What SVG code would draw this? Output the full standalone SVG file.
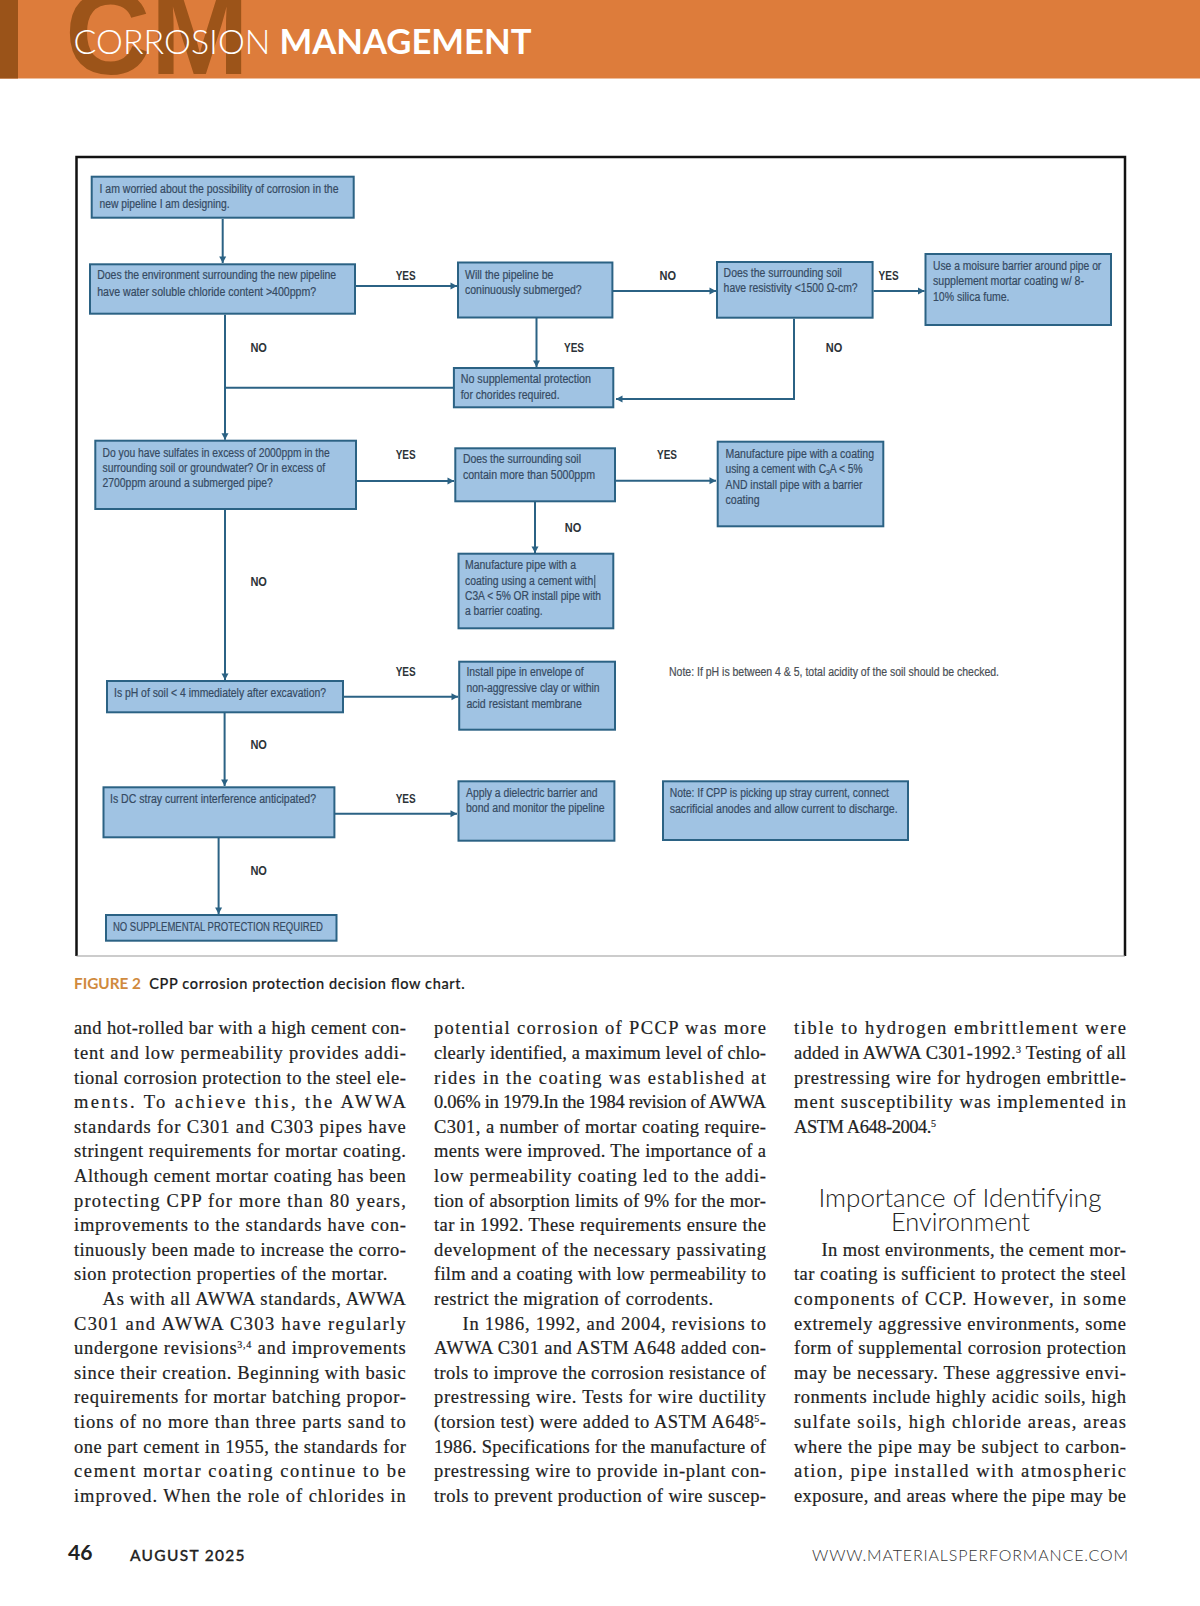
<svg xmlns="http://www.w3.org/2000/svg" width="1200" height="1606" viewBox="0 0 1200 1606">
<style>
.box{fill:#a0c3e3;stroke:#2b6284;stroke-width:2}
.t{font-family:"Liberation Sans",Arial,sans-serif;font-size:12px;fill:#354a62;stroke:#354a62;stroke-width:0.2}
.lb{font-family:"Liberation Sans",Arial,sans-serif;font-size:12.5px;font-weight:700;fill:#2c3338}
.c{fill:none;stroke:#2b6284;stroke-width:2}
.b{font-family:"Liberation Serif","Times New Roman",serif;font-size:18.500px;fill:#222;stroke:#222;stroke-width:0.2}
</style>
<defs>
<marker id="ah" markerUnits="userSpaceOnUse" markerWidth="8" markerHeight="8" refX="7" refY="4" orient="auto"><path d="M0.5,0.5 L7,4 L0.5,7.5 Z" fill="#2b6284"/></marker>
</defs>
<rect width="1200" height="1606" fill="#fff"/>
<g id="header">
<rect width="1200" height="78.500" fill="#dd7c3b"/>
<rect width="18" height="78.500" fill="#9a5319"/>
<text x="65" y="74" font-family="Liberation Sans,Arial,sans-serif" font-weight="700" font-size="118" fill="#9c5419" textLength="184" lengthAdjust="spacingAndGlyphs">CM</text>
<text x="73.500" y="53.500" font-family="Lato,sans-serif" font-weight="300" font-size="34" fill="#fff" textLength="197" lengthAdjust="spacingAndGlyphs">CORROSION</text>
<text x="279.500" y="53.500" font-family="Lato,sans-serif" font-weight="700" font-size="34" fill="#fff" textLength="252" lengthAdjust="spacingAndGlyphs">MANAGEMENT</text>
</g>
<g id="frame">
<path d="M76.500,956 V157 H1125 V956" fill="none" stroke="#111" stroke-width="2.500"/>
<path d="M76.500,956 H1125" fill="none" stroke="#999" stroke-width="1"/>
</g>
<g id="connectors">
<path class="c" marker-end="url(#ah)" d="M222.700,219 V263"/>
<path class="c" marker-end="url(#ah)" d="M356,286 H457"/>
<path class="c" marker-end="url(#ah)" d="M536.500,318 V367"/>
<path class="c" marker-end="url(#ah)" d="M613,291 H716"/>
<path class="c" marker-end="url(#ah)" d="M873.600,291 H924.500"/>
<path class="c" marker-end="url(#ah)" d="M794,318.700 V399 H616"/>
<path class="c" marker-end="url(#ah)" d="M225,314.700 V439.700"/>
<path class="c" d="M225,387.700 H453"/>
<path class="c" marker-end="url(#ah)" d="M357,481 H454"/>
<path class="c" marker-end="url(#ah)" d="M616,480.700 H716"/>
<path class="c" marker-end="url(#ah)" d="M535,502 V553"/>
<path class="c" marker-end="url(#ah)" d="M225,510 V680"/>
<path class="c" marker-end="url(#ah)" d="M344,696.700 H458"/>
<path class="c" marker-end="url(#ah)" d="M224.600,713 V786"/>
<path class="c" marker-end="url(#ah)" d="M335,813.700 H457"/>
<path class="c" marker-end="url(#ah)" d="M218.600,838 V914"/>
</g>
<g id="n1"><rect class="box" x="91.700" y="176.700" width="262" height="41"/>
<text class="t" x="99.500" y="192.700" textLength="239" lengthAdjust="spacingAndGlyphs">I am worried about the possibility of corrosion in the</text>
<text class="t" x="99.500" y="208" textLength="130" lengthAdjust="spacingAndGlyphs">new pipeline I am designing.</text></g>
<g id="n2"><rect class="box" x="90" y="264.300" width="265" height="49.400"/>
<text class="t" x="97.200" y="279.300" textLength="239" lengthAdjust="spacingAndGlyphs">Does the environment surrounding the new pipeline</text>
<text class="t" x="97.200" y="296" textLength="219" lengthAdjust="spacingAndGlyphs">have water soluble chloride content &gt;400ppm?</text></g>
<g id="n3"><rect class="box" x="458" y="262.500" width="154.400" height="55"/>
<text class="t" x="465" y="278.700" textLength="88.400" lengthAdjust="spacingAndGlyphs">Will the pipeline be</text>
<text class="t" x="465" y="294.300" textLength="116.700" lengthAdjust="spacingAndGlyphs">coninuously submerged?</text></g>
<g id="n4"><rect class="box" x="717" y="262" width="155.600" height="55.700"/>
<text class="t" x="723.600" y="276.700" textLength="118.300" lengthAdjust="spacingAndGlyphs">Does the surrounding soil</text>
<text class="t" x="723.600" y="292" textLength="134" lengthAdjust="spacingAndGlyphs">have resistivity &lt;1500 Ω-cm?</text></g>
<g id="n5"><rect class="box" x="925.500" y="254" width="185.500" height="71"/>
<text class="t" x="933" y="270" textLength="168.300" lengthAdjust="spacingAndGlyphs">Use a moisure barrier around pipe or</text>
<text class="t" x="933" y="285.300" textLength="151" lengthAdjust="spacingAndGlyphs">supplement mortar coating w/ 8-</text>
<text class="t" x="933" y="300.700" textLength="76.500" lengthAdjust="spacingAndGlyphs">10% silica fume.</text></g>
<g id="n6"><rect class="box" x="453.900" y="368" width="159.400" height="39.300"/>
<text class="t" x="460.700" y="383.300" textLength="130.300" lengthAdjust="spacingAndGlyphs">No supplemental protection</text>
<text class="t" x="460.700" y="399.300" textLength="98.900" lengthAdjust="spacingAndGlyphs">for chorides required.</text></g>
<g id="n7"><rect class="box" x="95.300" y="440.700" width="260.700" height="68.300"/>
<text class="t" x="102.500" y="456.700" textLength="227.100" lengthAdjust="spacingAndGlyphs">Do you have sulfates in excess of 2000ppm in the</text>
<text class="t" x="102.500" y="472" textLength="222.500" lengthAdjust="spacingAndGlyphs">surrounding soil or groundwater? Or in excess of</text>
<text class="t" x="102.500" y="487.300" textLength="170.400" lengthAdjust="spacingAndGlyphs">2700ppm around a submerged pipe?</text></g>
<g id="n8"><rect class="box" x="455.300" y="448.300" width="159.700" height="53"/>
<text class="t" x="462.900" y="463.300" textLength="118.100" lengthAdjust="spacingAndGlyphs">Does the surrounding soil</text>
<text class="t" x="462.900" y="478.700" textLength="132.100" lengthAdjust="spacingAndGlyphs">contain more than 5000ppm</text></g>
<g id="n9"><rect class="box" x="717.700" y="441.700" width="165.600" height="84.600"/>
<text class="t" x="725.500" y="458" textLength="148.500" lengthAdjust="spacingAndGlyphs">Manufacture pipe with a coating</text>
<text class="t" x="725.500" y="473.300" textLength="137" lengthAdjust="spacingAndGlyphs">using a cement with C<tspan font-size="8" dy="2">3</tspan><tspan dy="-2">A &lt; 5%</tspan></text>
<text class="t" x="725.500" y="488.700" textLength="137" lengthAdjust="spacingAndGlyphs">AND install pipe with a barrier</text>
<text class="t" x="725.500" y="504" textLength="34" lengthAdjust="spacingAndGlyphs">coating</text></g>
<g id="n10"><rect class="box" x="458.500" y="553.700" width="154.800" height="74.600"/>
<text class="t" x="465" y="569.300" textLength="111" lengthAdjust="spacingAndGlyphs">Manufacture pipe with a</text>
<text class="t" x="465" y="584.700" textLength="128.200" lengthAdjust="spacingAndGlyphs">coating using a cement with</text>
<path d="M594.800,575 V588" stroke="#354a62" stroke-width="1" fill="none"/>
<text class="t" x="465" y="600" textLength="136" lengthAdjust="spacingAndGlyphs">C3A &lt; 5% OR install pipe with</text>
<text class="t" x="465" y="615.300" textLength="77.500" lengthAdjust="spacingAndGlyphs">a barrier coating.</text></g>
<g id="n11"><rect class="box" x="107" y="681" width="236" height="31.300"/>
<text class="t" x="114" y="696.700" textLength="212" lengthAdjust="spacingAndGlyphs">Is pH of soil &lt; 4 immediately after excavation?</text></g>
<g id="n12"><rect class="box" x="459.200" y="661.700" width="155.800" height="68"/>
<text class="t" x="466.400" y="676.300" textLength="117.200" lengthAdjust="spacingAndGlyphs">Install pipe in envelope of</text>
<text class="t" x="466.400" y="692" textLength="133.200" lengthAdjust="spacingAndGlyphs">non-aggressive clay or within</text>
<text class="t" x="466.400" y="707.700" textLength="115.400" lengthAdjust="spacingAndGlyphs">acid resistant membrane</text></g>
<g id="n13"><rect class="box" x="103.500" y="787.300" width="230.900" height="50"/>
<text class="t" x="110" y="803.300" textLength="206" lengthAdjust="spacingAndGlyphs">Is DC stray current interference anticipated?</text></g>
<g id="n14"><rect class="box" x="458.500" y="781.300" width="155.900" height="59.400"/>
<text class="t" x="466" y="796.700" textLength="131.500" lengthAdjust="spacingAndGlyphs">Apply a dielectric barrier and</text>
<text class="t" x="466" y="812" textLength="138.600" lengthAdjust="spacingAndGlyphs">bond and monitor the pipeline</text></g>
<g id="n15"><rect class="box" x="663" y="781.300" width="245" height="58.700"/>
<text class="t" x="669.700" y="797" textLength="219.300" lengthAdjust="spacingAndGlyphs">Note: If CPP is picking up stray current, connect</text>
<text class="t" x="669.700" y="812.700" textLength="228" lengthAdjust="spacingAndGlyphs">sacrificial anodes and allow current to discharge.</text></g>
<g id="n16"><rect class="box" x="106" y="915" width="230.500" height="25.700"/>
<text class="t" x="112.900" y="931" textLength="210" lengthAdjust="spacingAndGlyphs">NO SUPPLEMENTAL PROTECTION REQUIRED</text></g>
<g id="note-ph"><text class="t" x="669" y="676" style="fill:#4a4f55;stroke:#4a4f55" textLength="330" lengthAdjust="spacingAndGlyphs">Note: If pH is between 4 &amp; 5, total acidity of the soil should be checked.</text></g>
<g id="labels">
<text class="lb" x="395.700" y="279.500" textLength="20" lengthAdjust="spacingAndGlyphs">YES</text>
<text class="lb" x="659.500" y="279.500" textLength="16.500" lengthAdjust="spacingAndGlyphs">NO</text>
<text class="lb" x="878.600" y="279.500" textLength="20" lengthAdjust="spacingAndGlyphs">YES</text>
<text class="lb" x="825.800" y="352" textLength="16.500" lengthAdjust="spacingAndGlyphs">NO</text>
<text class="lb" x="250.400" y="352" textLength="16.500" lengthAdjust="spacingAndGlyphs">NO</text>
<text class="lb" x="564" y="352" textLength="20" lengthAdjust="spacingAndGlyphs">YES</text>
<text class="lb" x="395.700" y="459" textLength="20" lengthAdjust="spacingAndGlyphs">YES</text>
<text class="lb" x="657" y="459" textLength="20" lengthAdjust="spacingAndGlyphs">YES</text>
<text class="lb" x="564.800" y="532" textLength="16.500" lengthAdjust="spacingAndGlyphs">NO</text>
<text class="lb" x="250.400" y="586" textLength="16.500" lengthAdjust="spacingAndGlyphs">NO</text>
<text class="lb" x="395.700" y="676" textLength="20" lengthAdjust="spacingAndGlyphs">YES</text>
<text class="lb" x="250.400" y="749" textLength="16.500" lengthAdjust="spacingAndGlyphs">NO</text>
<text class="lb" x="395.700" y="803" textLength="20" lengthAdjust="spacingAndGlyphs">YES</text>
<text class="lb" x="250.400" y="875" textLength="16.500" lengthAdjust="spacingAndGlyphs">NO</text>
</g>
<g id="caption" font-family="Lato,sans-serif" font-size="14.500" font-weight="500">
<text x="74" y="989.400" fill="#d08a3e" font-weight="700" textLength="67" lengthAdjust="spacingAndGlyphs">FIGURE 2</text>
<text x="149.300" y="989.400" fill="#1c1c1c" stroke="#1c1c1c" stroke-width="0.2" textLength="315.300" lengthAdjust="spacing">CPP corrosion protection decision flow chart.</text>
</g>
<g id="column1">
<text class="b" x="74" y="1034.300" textLength="331.800">and hot-rolled bar with a high cement con-</text>
<text class="b" x="74" y="1058.900" textLength="331.800">tent and low permeability provides addi-</text>
<text class="b" x="74" y="1083.500" textLength="331.800">tional corrosion protection to the steel ele-</text>
<text class="b" x="74" y="1108.100" textLength="331.800">ments. To achieve this, the AWWA</text>
<text class="b" x="74" y="1132.700" textLength="331.800">standards for C301 and C303 pipes have</text>
<text class="b" x="74" y="1157.300" textLength="331.800">stringent requirements for mortar coating.</text>
<text class="b" x="74" y="1181.900" textLength="331.800">Although cement mortar coating has been</text>
<text class="b" x="74" y="1206.500" textLength="331.800">protecting CPP for more than 80 years,</text>
<text class="b" x="74" y="1231.100" textLength="331.800">improvements to the standards have con-</text>
<text class="b" x="74" y="1255.700" textLength="331.800">tinuously been made to increase the corro-</text>
<text class="b" x="74" y="1280.300" textLength="313.300">sion protection properties of the mortar.</text>
<text class="b" x="102.600" y="1304.900" textLength="303.200">As with all AWWA standards, AWWA</text>
<text class="b" x="74" y="1329.500" textLength="331.800">C301 and AWWA C303 have regularly</text>
<text class="b" x="74" y="1354.100" textLength="331.800">undergone revisions<tspan font-size="10" dy="-6">3,4</tspan><tspan dy="6"> and improvements</tspan></text>
<text class="b" x="74" y="1378.700" textLength="331.800">since their creation. Beginning with basic</text>
<text class="b" x="74" y="1403.300" textLength="331.800">requirements for mortar batching propor-</text>
<text class="b" x="74" y="1427.900" textLength="331.800">tions of no more than three parts sand to</text>
<text class="b" x="74" y="1452.500" textLength="331.800">one part cement in 1955, the standards for</text>
<text class="b" x="74" y="1477.100" textLength="331.800">cement mortar coating continue to be</text>
<text class="b" x="74" y="1501.700" textLength="331.800">improved. When the role of chlorides in</text>
</g>
<g id="column2">
<text class="b" x="434" y="1034.300" textLength="332">potential corrosion of PCCP was more</text>
<text class="b" x="434" y="1058.900" textLength="332">clearly identified, a maximum level of chlo-</text>
<text class="b" x="434" y="1083.500" textLength="332">rides in the coating was established at</text>
<text class="b" x="434" y="1108.100" textLength="332">0.06% in 1979.In the 1984 revision of AWWA</text>
<text class="b" x="434" y="1132.700" textLength="332">C301, a number of mortar coating require-</text>
<text class="b" x="434" y="1157.300" textLength="332">ments were improved. The importance of a</text>
<text class="b" x="434" y="1181.900" textLength="332">low permeability coating led to the addi-</text>
<text class="b" x="434" y="1206.500" textLength="332">tion of absorption limits of 9% for the mor-</text>
<text class="b" x="434" y="1231.100" textLength="332">tar in 1992. These requirements ensure the</text>
<text class="b" x="434" y="1255.700" textLength="332">development of the necessary passivating</text>
<text class="b" x="434" y="1280.300" textLength="332">film and a coating with low permeability to</text>
<text class="b" x="434" y="1304.900" textLength="279">restrict the migration of corrodents.</text>
<text class="b" x="462.500" y="1329.500" textLength="303.500">In 1986, 1992, and 2004, revisions to</text>
<text class="b" x="434" y="1354.100" textLength="332">AWWA C301 and ASTM A648 added con-</text>
<text class="b" x="434" y="1378.700" textLength="332">trols to improve the corrosion resistance of</text>
<text class="b" x="434" y="1403.300" textLength="332">prestressing wire. Tests for wire ductility</text>
<text class="b" x="434" y="1427.900" textLength="332">(torsion test) were added to ASTM A648<tspan font-size="10" dy="-6">5</tspan><tspan dy="6">-</tspan></text>
<text class="b" x="434" y="1452.500" textLength="332">1986. Specifications for the manufacture of</text>
<text class="b" x="434" y="1477.100" textLength="332">prestressing wire to provide in-plant con-</text>
<text class="b" x="434" y="1501.700" textLength="332">trols to prevent production of wire suscep-</text>
</g>
<g id="column3">
<text class="b" x="794" y="1034.300" textLength="332">tible to hydrogen embrittlement were</text>
<text class="b" x="794" y="1058.900" textLength="332">added in AWWA C301-1992.<tspan font-size="10" dy="-6">3</tspan><tspan dy="6"> Testing of all</tspan></text>
<text class="b" x="794" y="1083.500" textLength="332">prestressing wire for hydrogen embrittle-</text>
<text class="b" x="794" y="1108.100" textLength="332">ment susceptibility was implemented in</text>
<text class="b" x="794" y="1132.700" textLength="142">ASTM A648-2004.<tspan font-size="10" dy="-6">5</tspan></text>
<text x="818.500" y="1206.700" font-family="Lato,sans-serif" font-weight="300" font-size="26" fill="#222" textLength="283" lengthAdjust="spacingAndGlyphs">Importance of Identifying</text>
<text x="891" y="1230.700" font-family="Lato,sans-serif" font-weight="300" font-size="26" fill="#222" textLength="139" lengthAdjust="spacingAndGlyphs">Environment</text>
<text class="b" x="821.500" y="1255.700" textLength="304.500">In most environments, the cement mor-</text>
<text class="b" x="794" y="1280.300" textLength="332">tar coating is sufficient to protect the steel</text>
<text class="b" x="794" y="1304.900" textLength="332">components of CCP. However, in some</text>
<text class="b" x="794" y="1329.500" textLength="332">extremely aggressive environments, some</text>
<text class="b" x="794" y="1354.100" textLength="332">form of supplemental corrosion protection</text>
<text class="b" x="794" y="1378.700" textLength="332">may be necessary. These aggressive envi-</text>
<text class="b" x="794" y="1403.300" textLength="332">ronments include highly acidic soils, high</text>
<text class="b" x="794" y="1427.900" textLength="332">sulfate soils, high chloride areas, areas</text>
<text class="b" x="794" y="1452.500" textLength="332">where the pipe may be subject to carbon-</text>
<text class="b" x="794" y="1477.100" textLength="332">ation, pipe installed with atmospheric</text>
<text class="b" x="794" y="1501.700" textLength="332">exposure, and areas where the pipe may be</text>
</g>
<g id="footer" font-family="Lato,sans-serif">
<text x="68" y="1560" font-size="21" font-weight="700" fill="#222" textLength="24.500" lengthAdjust="spacingAndGlyphs">46</text>
<text x="130" y="1560.700" font-size="15.500" font-weight="500" fill="#222" stroke="#222" stroke-width="0.3" textLength="114.500" lengthAdjust="spacing">AUGUST 2025</text>
<text x="812" y="1560.700" font-size="16" font-weight="300" fill="#333" textLength="316" lengthAdjust="spacing">WWW.MATERIALSPERFORMANCE.COM</text>
</g>
</svg>
